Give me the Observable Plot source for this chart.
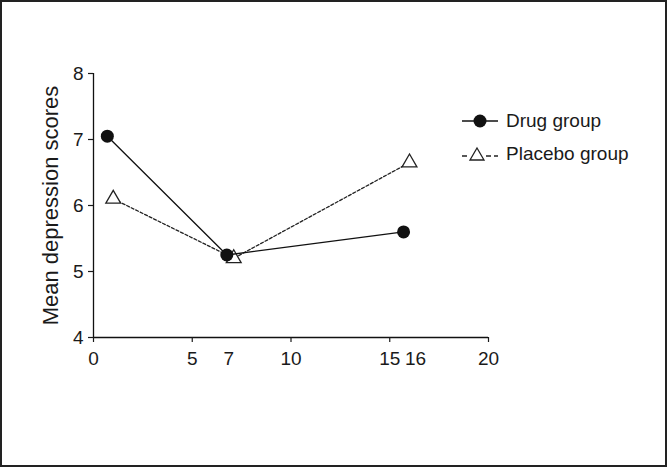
<!DOCTYPE html>
<html>
<head>
<meta charset="utf-8">
<script src="https://cdn.jsdelivr.net/npm/d3@7"></script>
<script src="https://cdn.jsdelivr.net/npm/@observablehq/plot@0.6"></script>
<style>
  html, body { margin: 0; padding: 0; background: #fff; }
  #frame { position: absolute; left: 0; top: 0; width: 667px; height: 467px; box-sizing: border-box; border: 2px solid #222; }
  #chart { position: absolute; left: 0; top: 0; }
  #legend { position: absolute; left: 460px; top: 104px; font-family: "Liberation Sans", Arial, sans-serif; font-size: 19px; color: #1a1a1a; }
  #legend .row { display: flex; align-items: center; height: 33px; }
  #legend svg { display: block; margin-right: 6px; }
</style>
</head>
<body>
<div id="frame"></div>
<div id="chart"></div>
<div id="legend"></div>
<script>
// Data
const seriesNames = ["Drug group", "Placebo group"];
const drugWeeks = [0.7, 6.75, 15.7];
const drugScores = [7.05, 5.25, 5.6];
const placeboWeeks = [1.0, 7.1, 16.0];
const placeboScores = [6.1, 5.2, 6.65];
const xTickMarks = [0, 5, 10, 15, 20];
const xExtraLabelLeft = [7];
const xExtraLabelRight = [16];
const yTicks = [4, 5, 6, 7, 8];
const yLabel = "Mean depression scores";

const drug = drugWeeks.map((w, i) => ({week: w, score: drugScores[i]}));
const placebo = placeboWeeks.map((w, i) => ({week: w, score: placeboScores[i]}));

const chart = Plot.plot({
  width: 669,
  height: 468,
  marginLeft: 93,
  marginRight: 181,
  marginTop: 73,
  marginBottom: 131,
  style: {fontFamily: '"Liberation Sans", Arial, sans-serif', fontSize: "19px", color: "#1a1a1a", background: "transparent"},
  x: {domain: [0, 20]},
  y: {domain: [4, 8]},
  marks: [
    Plot.ruleX([0], {y1: 4, y2: 8, stroke: "#111", strokeWidth: 1.3}),
    Plot.ruleY([4], {x1: 0, x2: 20, stroke: "#111", strokeWidth: 1.3}),
    Plot.axisX({ticks: xTickMarks, tickFormat: d3.format("d"), tickSize: 5, tickPadding: 9, label: null, strokeWidth: 1.2}),
    Plot.axisX({ticks: xExtraLabelLeft, tickFormat: d3.format("d"), tickSize: 0, tickPadding: 14, dx: -3, label: null}),
    Plot.axisX({ticks: xExtraLabelRight, tickFormat: d3.format("d"), tickSize: 0, tickPadding: 14, dx: 6, label: null}),
    Plot.axisY({ticks: yTicks, tickFormat: d3.format("d"), tickSize: 5, tickPadding: 5, label: null, strokeWidth: 1.2}),
    Plot.text([yLabel], {frameAnchor: "left", textAnchor: "middle", rotate: -90, dx: -43, fontSize: 22, fill: "#1a1a1a"}),
    Plot.line(placebo, {x: "week", y: "score", stroke: "#222", strokeWidth: 1.3, strokeDasharray: "3,2"}),
    Plot.dot(placebo, {x: "week", y: "score", symbol: "triangle", r: 5.5, stroke: "#222", strokeWidth: 1.3, fill: "white"}),
    Plot.line(drug, {x: "week", y: "score", stroke: "#111", strokeWidth: 1.3}),
    Plot.dot(drug, {x: "week", y: "score", symbol: "circle", r: 6.5, fill: "#111", stroke: "none"})
  ]
});
document.getElementById("chart").appendChild(chart);

// Legend
const legend = document.getElementById("legend");
legend.innerHTML = `
  <div class="row">
    <svg width="40" height="20"><line x1="2" y1="10" x2="38" y2="10" stroke="#111" stroke-width="1.5"/><circle cx="20" cy="10" r="6.5" fill="#111"/></svg>
    <span>${seriesNames[0]}</span>
  </div>
  <div class="row">
    <svg width="40" height="20"><line x1="2" y1="12" x2="38" y2="12" stroke="#222" stroke-width="1.3" stroke-dasharray="5,3"/><rect x="9" y="2" width="16" height="16" fill="white"/><path d="M17,4 L24,16 L10,16 Z" fill="white" stroke="#222" stroke-width="1.3"/></svg>
    <span>${seriesNames[1]}</span>
  </div>`;
</script>
</body>
</html>
